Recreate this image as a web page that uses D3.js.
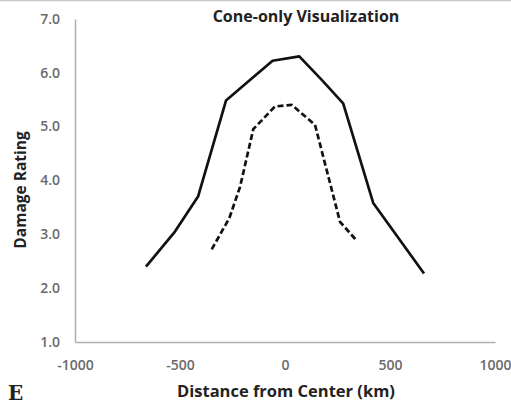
<!DOCTYPE html>
<html>
  <head>
    <meta charset="utf-8">
    <style>
      body { margin: 0; background: #fff; }
      svg { display: block; }
    </style>
  </head>
<body>
  <div id="chart"></div>
  <script src="https://d3js.org/d3.v7.min.js"></script>
  <script>
    // distance from center (km) and damage rating
    var solidX = [-662, -524, -414, -281, -171, -59, 68, 176, 277, 420, 662];
    var solidY = [2.40, 3.05, 3.70, 5.48, 5.85, 6.22, 6.30, 5.86, 5.43, 3.58, 2.27];
    var dashX = [-349, -265, -214, -151, -48, 32, 143, 262, 337];
    var dashY = [2.72, 3.30, 3.88, 4.95, 5.37, 5.40, 5.03, 3.23, 2.90];
    var xTicks = [-1000, -500, 0, 500, 1000];
    var yTicks = [1, 2, 3, 4, 5, 6, 7];

    var width = 511, height = 404;
    var margin = {top: 18.7, right: 16, bottom: 62, left: 75};

    var svg = d3.select("#chart")
      .append("svg")
      .attr("width", width)
      .attr("height", height);

    // thin frame line at the top edge
    svg.append("line")
      .attr("x1", 0).attr("x2", width)
      .attr("y1", 0.5).attr("y2", 0.5)
      .attr("stroke", "#c8c8c8")
      .attr("stroke-width", 1.5);

    var x = d3.scaleLinear()
      .domain([-1000, 1000])
      .range([margin.left, width - margin.right]);

    var y = d3.scaleLinear()
      .domain([1, 7])
      .range([height - margin.bottom, margin.top]);

    var xAxis = svg.append("g")
      .attr("transform", "translate(0," + y(1) + ")")
      .call(d3.axisBottom(x).tickValues(xTicks).tickSize(0).tickPadding(18)
        .tickFormat(function(d) { return String(d); }));
    xAxis.select(".domain").attr("stroke", "#b0b0b0").attr("stroke-width", 1.5);
    xAxis.selectAll("text")
      .style("font-family", "Open Sans")
      .style("font-size", "14px")
      .style("font-weight", "600")
      .attr("fill", "#6a6a6a");

    var yAxis = svg.append("g")
      .attr("transform", "translate(" + x(-1000) + ",0)")
      .call(d3.axisLeft(y).tickValues(yTicks).tickSize(0).tickPadding(15).tickFormat(d3.format(".1f")));
    yAxis.select(".domain").attr("stroke", "#b0b0b0").attr("stroke-width", 1.5);
    yAxis.selectAll("text")
      .style("font-family", "Open Sans")
      .style("font-size", "14px")
      .style("font-weight", "600")
      .attr("fill", "#6a6a6a");

    var line = d3.line()
      .x(function(d) { return x(d[0]); })
      .y(function(d) { return y(d[1]); });

    var solid = d3.zip(solidX, solidY);
    var dashed = d3.zip(dashX, dashY);

    svg.append("path")
      .datum(solid)
      .attr("d", line)
      .attr("fill", "none")
      .attr("stroke", "#111")
      .attr("stroke-width", 2.7)
      .attr("stroke-linejoin", "round");

    svg.append("path")
      .datum(dashed)
      .attr("d", line)
      .attr("fill", "none")
      .attr("stroke", "#111")
      .attr("stroke-width", 2.7)
      .attr("stroke-dasharray", "6,3");

    svg.append("text")
      .attr("x", 306)
      .attr("y", 22)
      .attr("text-anchor", "middle")
      .style("font-family", "Open Sans")
      .style("font-weight", "bold")
      .style("font-size", "16px")
      .attr("fill", "#222")
      .text("Cone-only Visualization");

    svg.append("text")
      .attr("transform", "rotate(-90)")
      .attr("x", -190)
      .attr("y", 26)
      .attr("text-anchor", "middle")
      .style("font-family", "Open Sans")
      .style("font-weight", "bold")
      .style("font-size", "15.5px")
      .attr("fill", "#222")
      .text("Damage Rating");

    svg.append("text")
      .attr("x", 286)
      .attr("y", 397)
      .attr("text-anchor", "middle")
      .style("font-family", "Open Sans")
      .style("font-weight", "bold")
      .style("font-size", "16.5px")
      .attr("fill", "#222")
      .text("Distance from Center (km)");

    svg.append("text")
      .attr("x", 8)
      .attr("y", 400)
      .style("font-family", "DejaVu Serif")
      .style("font-weight", "bold")
      .style("font-size", "20px")
      .attr("fill", "#222")
      .text("E");
  </script>
</body>
</html>
